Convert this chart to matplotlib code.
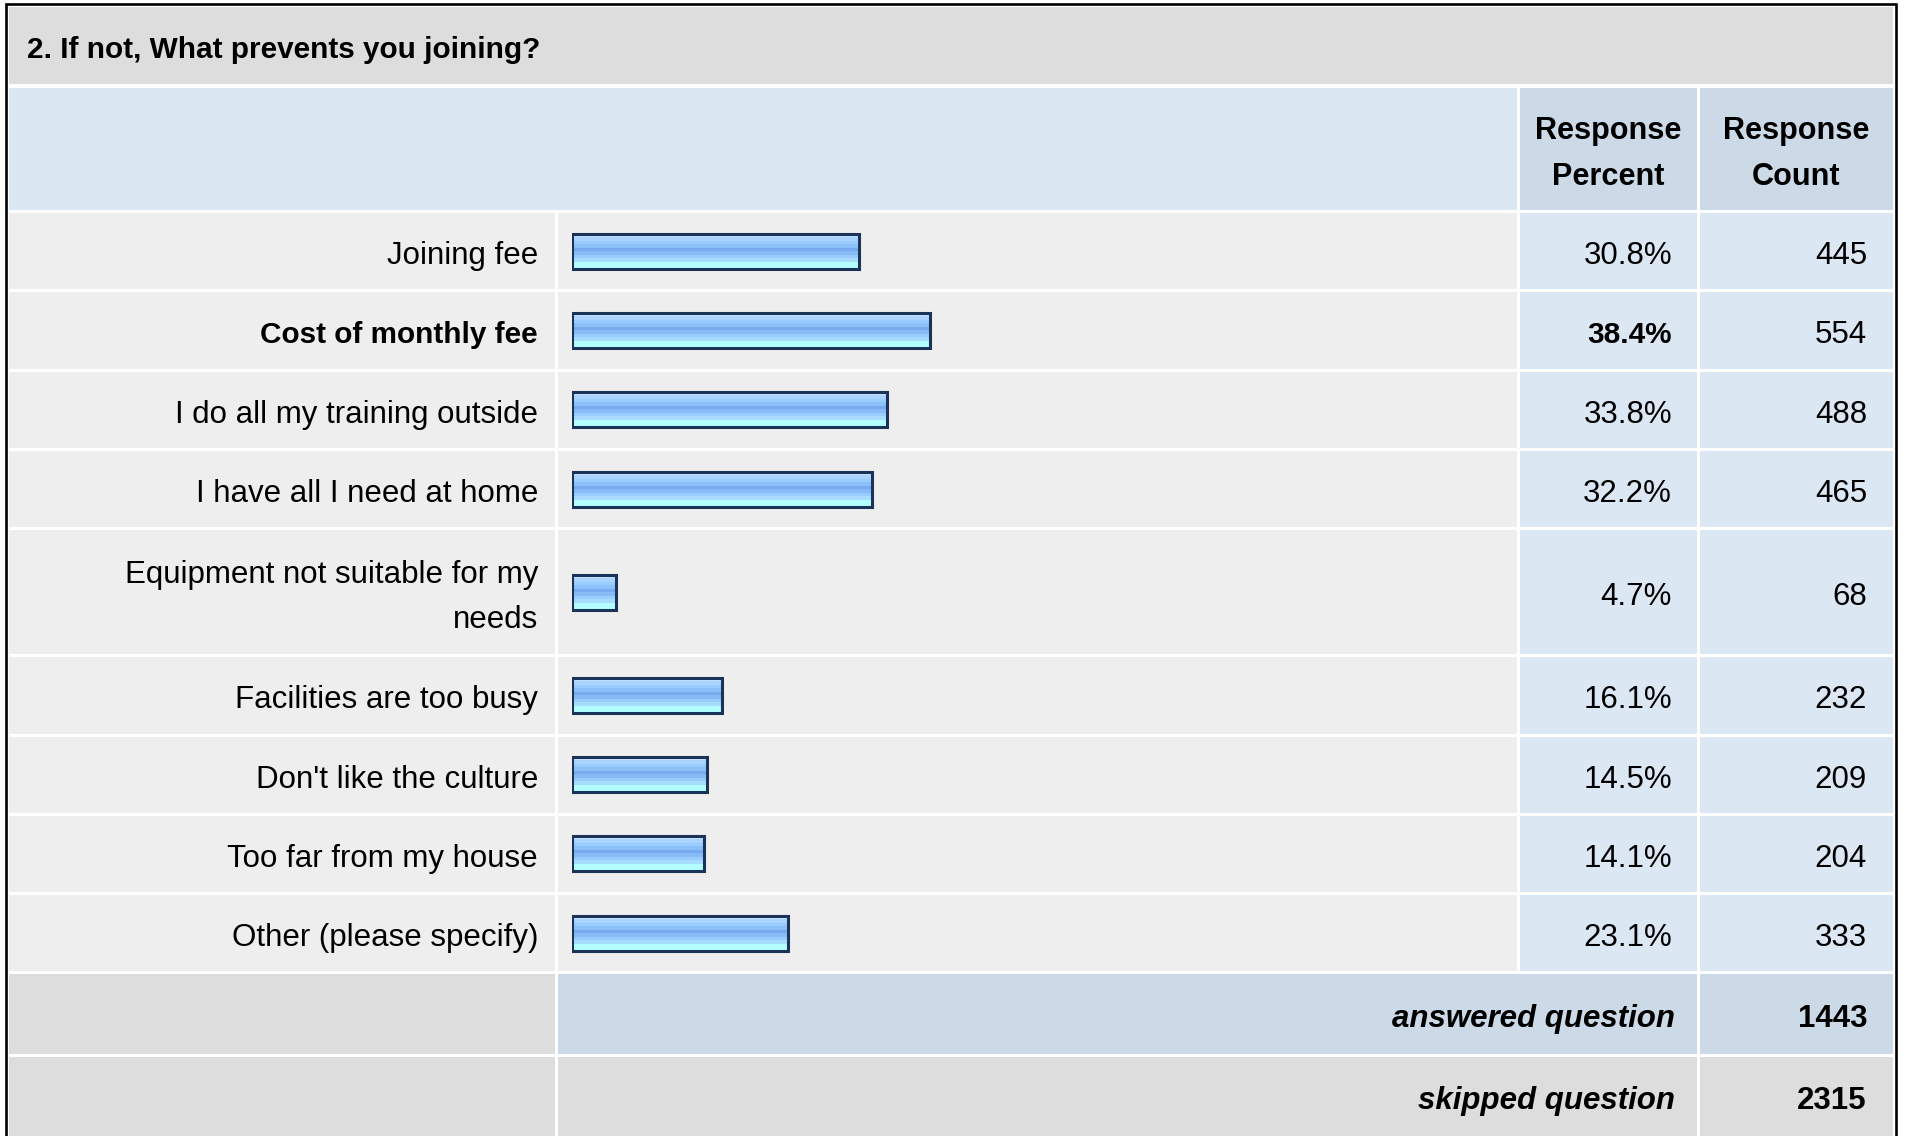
"""
Survey response table: 2. If not, What prevents you joining?
Output: out.png
"""

import numpy as np
import matplotlib

matplotlib.use("Agg")
import matplotlib.pyplot as plt
from matplotlib.patches import Rectangle
from matplotlib.colors import ListedColormap

# ─────────────────────────────────────────────
# DATA
# ─────────────────────────────────────────────
QUESTION = "2. If not, What prevents you joining?"
HEADERS = ["Response\nPercent", "Response\nCount"]
ANSWERS = [
    "Joining fee",
    "Cost of monthly fee",
    "I do all my training outside",
    "I have all I need at home",
    "Equipment not suitable for my\nneeds",
    "Facilities are too busy",
    "Don't like the culture",
    "Too far from my house",
    "Other (please specify)",
]
PERCENT = [30.8, 38.4, 33.8, 32.2, 4.7, 16.1, 14.5, 14.1, 23.1]
COUNT = [445, 554, 488, 465, 68, 232, 209, 204, 333]
FOOTER_LABELS = ["answered question", "skipped question"]
FOOTER_COUNTS = [1443, 2315]

# ─────────────────────────────────────────────
# LAYOUT (pixels, y from top)
# ─────────────────────────────────────────────
W, H = 1907, 1136
X_LABEL = (9, 555)
X_BAR = (558, 1517)
X_PCT = (1520, 1697)
X_CNT = (1700, 1893)
Y_TITLE = (7, 84)
Y_HEAD = (88, 210)
ROW_TOP0 = 213
ROW_H = 76.3
TALL_H = 124
GAP = 3
BAR_X0 = 572
PX_PER_PCT = 9.33
BAR_H = 35
FS = 22.5
FS_BOLD = 21.4  # Liberation bold runs wider than the original
FS_HEAD = 22.1
FS_TITLE = 21.4
DY = 5  # matplotlib centres slightly high, push text down

GRAY = "#dddddd"
ROW_BG = "#eeeeee"
BLUE_LT = "#dce7f4"
BLUE_MD = "#ccd9e7"
NAVY = "#1b3358"
STRIPES = ["#c6e2ff", "#aad4ff", "#99ccff", "#8cc0f8", "#77aaee",
           "#88bbf5", "#99ccff", "#a8dcff", "#b3ffff", "#b3ffff"]

plt.rcParams["font.family"] = ["Liberation Sans", "DejaVu Sans"]


def cell(ax, x, y, color):
    ax.add_patch(Rectangle((x[0], y[0]), x[1] - x[0], y[1] - y[0],
                           facecolor=color, edgecolor="none", zorder=0))


fig = plt.figure(figsize=(W / 100, H / 100), dpi=100)
fig.patch.set_facecolor("white")
bg = fig.add_axes([0, 0, 1, 1])
bg.set_xlim(0, W)
bg.set_ylim(H, 0)
bg.axis("off")

# outer border
bg.plot([5.5, 5.5, 1895.5, 1895.5], [H, 3.5, 3.5, H], color="black", lw=1.9,
        solid_joinstyle="miter")

# title + header
cell(bg, (X_LABEL[0], X_CNT[1]), Y_TITLE, GRAY)
bg.text(27, sum(Y_TITLE) / 2 + DY, QUESTION, fontsize=FS_TITLE,
        fontweight="bold", ha="left", va="center")
cell(bg, (X_LABEL[0], X_BAR[1]), Y_HEAD, BLUE_LT)
for xr, txt in zip([X_PCT, X_CNT], HEADERS):
    cell(bg, xr, Y_HEAD, BLUE_MD)
    bg.text(sum(xr) / 2, sum(Y_HEAD) / 2 + 5, txt, fontsize=FS_HEAD,
            fontweight="bold", ha="center", va="center", linespacing=1.68)

# answer rows
best = int(np.argmax(PERCENT))
centers = []
top = ROW_TOP0
for i, (lab, pct, cnt) in enumerate(zip(ANSWERS, PERCENT, COUNT)):
    h = TALL_H if "\n" in lab else ROW_H
    yr = (top, top + h)
    yc = top + h / 2
    centers.append(yc)
    cell(bg, X_LABEL, yr, ROW_BG)
    cell(bg, X_BAR, yr, ROW_BG)
    cell(bg, X_PCT, yr, BLUE_LT)
    cell(bg, X_CNT, yr, BLUE_LT)
    if i == best:
        wt, fs = "bold", FS_BOLD
    else:
        wt, fs = "normal", FS
    bg.text(538, yc + DY, lab, fontsize=fs, fontweight=wt, ha="right", va="center",
            linespacing=1.65)
    bg.text(1672, yc + DY, f"{pct:.1f}%", fontsize=fs, fontweight=wt,
            ha="right", va="center")
    bg.text(1867, yc + DY, f"{cnt}", fontsize=FS, ha="right", va="center")
    top += h + GAP

# footer rows
footer_bg = [(GRAY, BLUE_MD, BLUE_MD), (GRAY, GRAY, GRAY)]
for k, (lab, cnt) in enumerate(zip(FOOTER_LABELS, FOOTER_COUNTS)):
    h = ROW_H + 3 if k == 0 else H - top + 5
    yr = (top, top + h)
    yc = top + (ROW_H + 3) / 2
    c0, c1, c2 = footer_bg[k]
    cell(bg, X_LABEL, yr, c0)
    cell(bg, (X_BAR[0], X_PCT[1]), yr, c1)
    cell(bg, X_CNT, yr, c2)
    bg.text(1675, yc + DY, lab, fontsize=FS, fontweight="bold", fontstyle="italic",
            ha="right", va="center")
    bg.text(1867, yc + DY, f"{cnt}", fontsize=FS, fontweight="bold",
            ha="right", va="center")
    top += h + GAP

# bars
ax = fig.add_axes([BAR_X0 / W, 0, 100 * PX_PER_PCT / W, 1])
ax.patch.set_alpha(0)
cmap = ListedColormap(STRIPES)
grad = np.arange(len(STRIPES)).reshape(-1, 1)
for yc, pct in zip(centers, PERCENT):
    ax.imshow(grad, cmap=cmap, aspect="auto", interpolation="nearest",
              extent=(0, pct, yc + BAR_H / 2, yc - BAR_H / 2), zorder=1)
ax.barh(centers, PERCENT, height=BAR_H, left=0, facecolor="none",
        edgecolor=NAVY, linewidth=2.2, zorder=2)
ax.set_xlim(0, 100)
ax.set_ylim(H, 0)
ax.axis("off")

fig.savefig("out.png", dpi=100, facecolor="white")
